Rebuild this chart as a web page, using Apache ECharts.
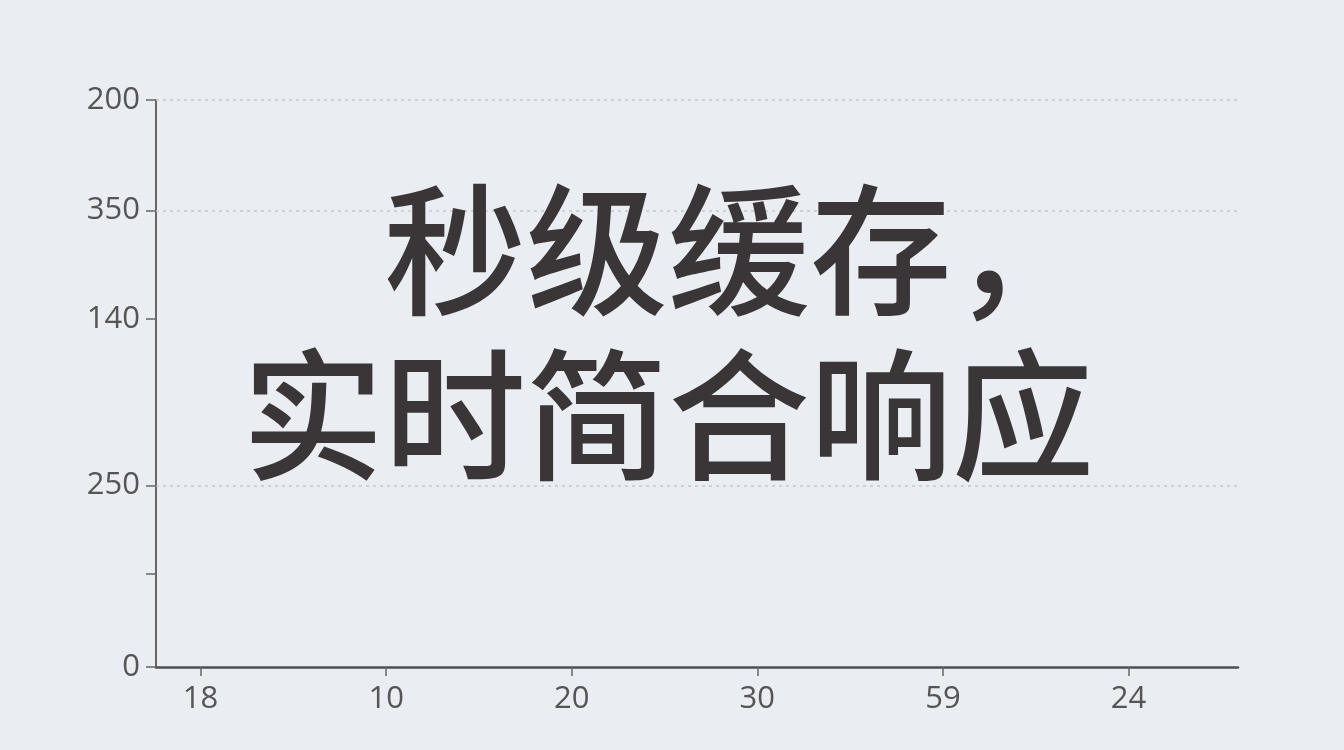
<!DOCTYPE html>
<html>
<head>
<meta charset="utf-8">
<script src="https://cdn.jsdelivr.net/npm/echarts@6/dist/echarts.min.js"></script>
<style>
html, body { margin: 0; padding: 0; background: #eaedf1; }
#main { width: 1344px; height: 750px; }
</style>
</head>
<body>
<div id="main"></div>
<script>
// 横轴刻度
var xValues = [1, 2, 3, 4, 5, 6];
var xLabels = ['18', '10', '20', '30', '59', '24'];

// 纵轴刻度（自下而上）
var yValues = [0, 32, 61.4, 80.5, 100];
var yLabels = ['0', '250', '140', '350', '200'];
var yMinorTick = [16.5];

// 虚线网格所在位置
var gridLines = [32, 80.5, 100];

var headline = '秒级缓存，\n实时简合响应';

var myChart = echarts.init(document.getElementById('main'));

var labelStyle = {
    color: '#555',
    fontFamily: 'Open Sans',
    fontSize: 31
};

var option = {
    backgroundColor: '#eaedf1',
    animation: false,
    grid: {
        left: 156,
        right: 106,
        top: 100,
        bottom: 83
    },
    xAxis: {
        type: 'value',
        min: 0.76,
        max: 6.59,
        axisLine: { lineStyle: { color: '#4f4f52', width: 2.5 } },
        axisTick: { customValues: xValues, length: 9, lineStyle: { color: '#666', width: 1.5 } },
        axisLabel: Object.assign({
            customValues: xValues,
            margin: 17,
            formatter: function (v) { return xLabels[xValues.indexOf(v)]; }
        }, labelStyle),
        splitLine: { show: false }
    },
    yAxis: {
        type: 'value',
        min: 0,
        max: 100,
        axisLine: { show: true, lineStyle: { color: '#666', width: 2 } },
        axisTick: { show: true, customValues: yValues.concat(yMinorTick), length: 10, lineStyle: { color: '#666', width: 1.5 } },
        axisLabel: Object.assign({
            customValues: yValues,
            margin: 16,
            formatter: function (v) { return yLabels[yValues.indexOf(v)]; }
        }, labelStyle),
        splitLine: { show: false }
    },
    graphic: [{
        type: 'text',
        right: 250,
        top: 168,
        z: 100,
        style: {
            text: headline,
            textAlign: 'right',
            fill: '#3a3537',
            font: '500 142px "Noto Sans CJK SC"',
            lineHeight: 165
        }
    }],
    series: [{
        type: 'line',
        data: [],
        silent: true,
        z: 1,
        markLine: {
            silent: true,
            symbol: 'none',
            label: { show: false },
            lineStyle: { color: '#c4c7cc', type: [3, 4], width: 1.5 },
            data: gridLines.map(function (v) { return { yAxis: v }; })
        }
    }]
};

myChart.setOption(option);
</script>
</body>
</html>
